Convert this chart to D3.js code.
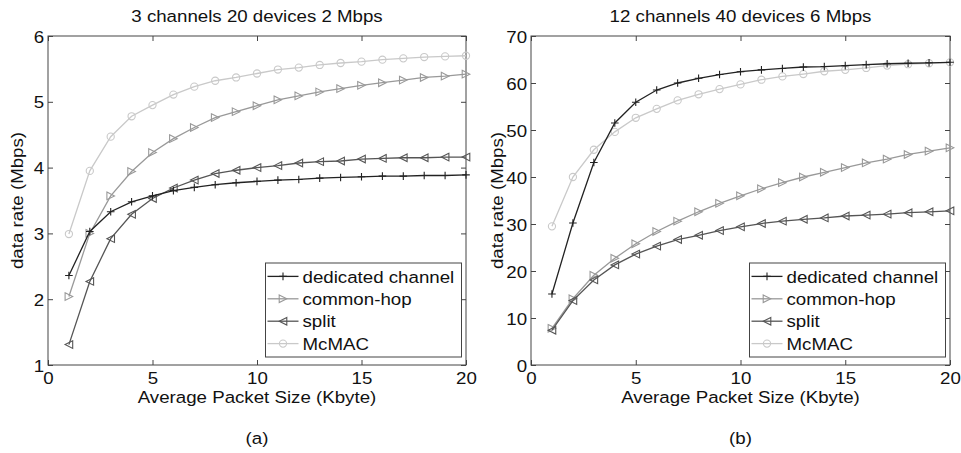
<!DOCTYPE html>
<html>
<head>
    <meta charset="utf-8">
    <style>
        body {
            margin: 0;
            background-color: #FFF;
        }
        text {
            font-family: "Liberation Sans", Arial, sans-serif;
            fill: #111;
        }
    </style>
</head>
<body>
<div id="chartArea"></div>
<script src="https://cdnjs.cloudflare.com/ajax/libs/d3/7.8.5/d3.min.js"></script>

<script>
    /* -----------------------------------
        data
    ----------------------------------- */
    var packetSizes = [1, 2, 3, 4, 5, 6, 7, 8, 9, 10, 11, 12, 13, 14, 15, 16, 17, 18, 19, 20];
    var seriesNames = ["dedicated channel", "common-hop", "split", "McMAC"];

    // (a) 3 channels 20 devices 2 Mbps
    var aDedicated = [2.36, 3.03, 3.33, 3.48, 3.57, 3.65, 3.70, 3.74, 3.77, 3.79, 3.81, 3.82, 3.84, 3.85, 3.86, 3.87, 3.87, 3.88, 3.88, 3.89];
    var aCommonHop = [2.04, 3.00, 3.57, 3.94, 4.23, 4.44, 4.61, 4.76, 4.85, 4.94, 5.03, 5.09, 5.15, 5.20, 5.25, 5.29, 5.33, 5.37, 5.39, 5.42];
    var aSplit     = [1.31, 2.27, 2.92, 3.29, 3.53, 3.69, 3.81, 3.91, 3.96, 4.00, 4.03, 4.07, 4.09, 4.10, 4.13, 4.14, 4.15, 4.15, 4.16, 4.16];
    var aMcMAC     = [2.99, 3.95, 4.47, 4.78, 4.95, 5.11, 5.23, 5.32, 5.37, 5.43, 5.49, 5.52, 5.56, 5.59, 5.61, 5.64, 5.66, 5.68, 5.69, 5.70];

    // (b) 12 channels 40 devices 6 Mbps
    var bDedicated = [15.1, 30.2, 43.1, 51.5, 55.9, 58.5, 60.0, 61.0, 61.8, 62.4, 62.8, 63.1, 63.4, 63.5, 63.7, 63.9, 64.1, 64.2, 64.3, 64.4];
    var bCommonHop = [7.8, 14.1, 19.1, 22.7, 25.8, 28.4, 30.6, 32.6, 34.4, 36.0, 37.5, 38.8, 40.0, 41.0, 42.0, 43.0, 43.8, 44.8, 45.5, 46.2];
    var bSplit     = [7.4, 13.7, 18.1, 21.3, 23.6, 25.3, 26.7, 27.6, 28.6, 29.4, 30.1, 30.6, 31.0, 31.3, 31.7, 31.9, 32.1, 32.4, 32.6, 32.8];
    var bMcMAC     = [29.5, 40.0, 45.8, 49.6, 52.6, 54.5, 56.3, 57.6, 58.7, 59.7, 60.7, 61.4, 61.9, 62.5, 62.8, 63.2, 63.7, 64.0, 64.2, 64.4];

    var xTicks = [0, 5, 10, 15, 20];
    var aYTicks = [1, 2, 3, 4, 5, 6];
    var bYTicks = [0, 10, 20, 30, 40, 50, 60, 70];

    /* -----------------------------------
        initialize
    ----------------------------------- */
    var width = 961, height = 453;
    var fontSize = 17, stretch = 1.1;   // the scan's glyphs are a bit wide

    var svg = d3.select("#chartArea").append("svg")
        .attr("width", width)
        .attr("height", height);

    var styles = [
        {color: "#222", marker: "plus"},
        {color: "#999", marker: "right"},
        {color: "#555", marker: "left"},
        {color: "#c9c9c9", marker: "circle"}
    ];

    var panels = [
        {left: 48, right: 466, top: 36, bottom: 365, yDomain: [1, 6], yTicks: aYTicks,
         title: "3 channels 20 devices 2 Mbps", tag: "(a)", yLabelX: 17,
         series: [aDedicated, aCommonHop, aSplit, aMcMAC]},
        {left: 531, right: 950, top: 36, bottom: 365, yDomain: [0, 70], yTicks: bYTicks,
         title: "12 channels 40 devices 6 Mbps", tag: "(b)", yLabelX: 497,
         series: [bDedicated, bCommonHop, bSplit, bMcMAC]}
    ];

    function label(g, x, y, str, anchor, rot) {
        return g.append("text")
            .attr("transform", "translate(" + x + "," + y + ")" + (rot ? " rotate(" + rot + ")" : "") + " scale(" + stretch + ",1)")
            .attr("text-anchor", anchor || "middle")
            .attr("font-size", fontSize)
            .text(str);
    }

    function drawMarker(g, type, x, y, color) {
        var s = 3.8;
        if (type === "circle") {
            g.append("circle").attr("cx", x).attr("cy", y).attr("r", 3.6)
                .attr("fill", "none").attr("stroke", color).attr("stroke-width", 1.1);
            return;
        }
        var d;
        if (type === "plus") d = "M" + (-s) + ",0H" + s + "M0," + (-s) + "V" + s;
        else if (type === "right") d = "M" + (-s) + "," + (-s) + "L" + s + ",0L" + (-s) + "," + s + "Z";
        else d = "M" + s + "," + (-s) + "L" + (-s) + ",0L" + s + "," + s + "Z";
        g.append("path").attr("d", d)
            .attr("transform", "translate(" + x + "," + y + ")")
            .attr("fill", "none").attr("stroke", color).attr("stroke-width", 1.1);
    }

    /* -----------------------------------
        panels
    ----------------------------------- */
    panels.forEach(function(p) {
        var g = svg.append("g");
        var x = d3.scaleLinear().domain([0, 20]).range([p.left, p.right]);
        var y = d3.scaleLinear().domain(p.yDomain).range([p.bottom, p.top]);

        // box
        g.append("rect")
            .attr("x", p.left).attr("y", p.top)
            .attr("width", p.right - p.left).attr("height", p.bottom - p.top)
            .attr("fill", "none").attr("stroke", "#444").attr("stroke-width", 1);

        // axes, ticks inward on all four sides
        g.append("g")
            .attr("transform", "translate(0," + p.bottom + ")")
            .call(d3.axisBottom(x).tickValues(xTicks).tickSize(-5).tickPadding(7).tickFormat(d3.format("d")));
        g.append("g")
            .attr("transform", "translate(0," + p.top + ")")
            .call(d3.axisTop(x).tickValues(xTicks).tickSize(-5).tickFormat(""));
        var leftAxis = g.append("g")
            .attr("transform", "translate(" + p.left + ",0)")
            .call(d3.axisLeft(y).tickValues(p.yTicks).tickSize(-5).tickPadding(3.5).tickFormat(d3.format("d")));
        g.append("g")
            .attr("transform", "translate(" + p.right + ",0)")
            .call(d3.axisRight(y).tickValues(p.yTicks).tickSize(-5).tickFormat(""));

        g.selectAll(".domain").remove();
        g.selectAll(".tick line").attr("stroke", "#444");
        g.selectAll(".tick text")
            .attr("font-family", "Liberation Sans, Arial, sans-serif")
            .attr("font-size", fontSize)
            .attr("fill", "#111")
            .attr("transform", "scale(" + stretch + ",1)");
        leftAxis.selectAll(".tick text").attr("dy", "0.36em");

        // series
        var line = d3.line()
            .x(function(d, i) { return x(packetSizes[i]); })
            .y(function(d) { return y(d); });

        // McMAC first, dedicated channel last (on top)
        [3, 1, 2, 0].forEach(function(k) {
            var vals = p.series[k], st = styles[k];
            g.append("path")
                .datum(vals)
                .attr("d", line)
                .attr("fill", "none")
                .attr("stroke", st.color)
                .attr("stroke-width", 1.3);
            vals.forEach(function(v, i) {
                drawMarker(g, st.marker, x(packetSizes[i]), y(v), st.color);
            });
        });

        // texts
        label(g, (p.left + p.right) / 2, 22, p.title);
        label(g, (p.left + p.right) / 2, 403, "Average Packet Size (Kbyte)");
        label(g, (p.left + p.right) / 2, 444, p.tag);
        label(g, p.yLabelX, (p.top + p.bottom) / 2, "data rate (Mbps)", "middle", -90)
            .attr("dy", "0.35em");

        // legend
        var lw = 196, lh = 94;
        var lx = p.right - 4.5 - lw, ly = p.bottom - 8 - lh;
        var lg = g.append("g").attr("transform", "translate(" + lx + "," + ly + ")");
        lg.append("rect")
            .attr("width", lw).attr("height", lh)
            .attr("fill", "#fff").attr("stroke", "#444").attr("stroke-width", 1);
        seriesNames.forEach(function(name, k) {
            var ry = 13.4 + k * 22.4, st = styles[k];
            lg.append("line")
                .attr("x1", 2).attr("x2", 33).attr("y1", ry).attr("y2", ry)
                .attr("stroke", st.color).attr("stroke-width", 1.3);
            drawMarker(lg, st.marker, 17.5, ry, st.color);
            label(lg, 37, ry, name, "start").attr("dy", "0.36em");
        });
    });
</script>
</body>
</html>
